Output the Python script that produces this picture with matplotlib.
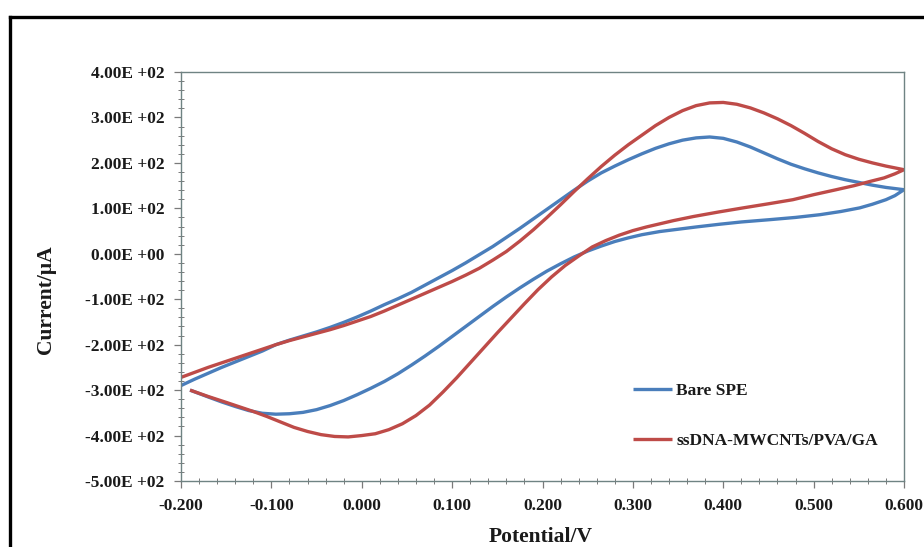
import matplotlib
matplotlib.use("Agg")
import matplotlib.pyplot as plt
from matplotlib.lines import Line2D
from matplotlib.ticker import MultipleLocator, FixedLocator

# ---- data ----
bare_fwd_v = [-0.200, -0.185, -0.170, -0.155, -0.140, -0.125, -0.110, -0.095, -0.080, -0.065,
              -0.050, -0.035, -0.020, -0.005, 0.010, 0.025, 0.040, 0.055, 0.070, 0.085,
              0.100, 0.115, 0.130, 0.145, 0.160, 0.175, 0.190, 0.205, 0.220, 0.235,
              0.250, 0.265, 0.280, 0.295, 0.310, 0.325, 0.340, 0.355, 0.370, 0.385,
              0.400, 0.415, 0.430, 0.445, 0.460, 0.475, 0.490, 0.505, 0.520, 0.535,
              0.550, 0.565, 0.580, 0.600]
bare_fwd_i = [-290, -276, -263, -250, -238, -226, -214, -200, -190, -181,
              -172, -162, -151, -139, -126, -112, -99, -85, -69, -53,
              -37, -20, -2, 16, 36, 56, 77, 98, 119, 140,
              160, 178, 193, 207, 220, 232, 242, 250, 255, 257,
              254, 246, 235, 222, 209, 197, 187, 178, 170, 163,
              157, 151, 146, 141]
bare_rev_v = [0.600, 0.590, 0.580, 0.565, 0.551, 0.530, 0.507, 0.480, 0.451, 0.420,
              0.396, 0.370, 0.350, 0.330, 0.310, 0.295, 0.280, 0.265, 0.250, 0.235,
              0.220, 0.205, 0.190, 0.175, 0.160, 0.145, 0.130, 0.115, 0.100, 0.085,
              0.070, 0.055, 0.040, 0.025, 0.010, -0.005, -0.020, -0.035, -0.050, -0.065,
              -0.080, -0.095, -0.110, -0.125, -0.140, -0.155, -0.170, -0.190]
bare_rev_i = [141, 128, 119, 109, 101, 93, 86, 80, 75, 70,
              65, 59, 54, 49, 42, 35, 27, 17, 6, -7,
              -22, -38, -56, -75, -95, -116, -138, -160, -182, -204,
              -225, -245, -264, -281, -296, -310, -323, -334, -343, -349,
              -352, -353, -351, -345, -336, -326, -315, -300]

dna_fwd_v = [-0.200, -0.185, -0.170, -0.155, -0.140, -0.125, -0.110, -0.095, -0.080, -0.065,
             -0.050, -0.035, -0.020, -0.005, 0.010, 0.025, 0.040, 0.055, 0.070, 0.085,
             0.100, 0.115, 0.130, 0.145, 0.160, 0.175, 0.190, 0.205, 0.220, 0.235,
             0.250, 0.265, 0.280, 0.295, 0.310, 0.325, 0.340, 0.355, 0.370, 0.385,
             0.400, 0.415, 0.430, 0.445, 0.460, 0.475, 0.490, 0.505, 0.520, 0.535,
             0.550, 0.565, 0.580, 0.600]
dna_fwd_i = [-272, -261, -250, -240, -230, -220, -210, -200, -191, -183,
             -175, -167, -158, -148, -138, -126, -113, -100, -87, -74,
             -61, -47, -32, -14, 5, 28, 53, 80, 108, 137,
             165, 192, 217, 240, 261, 282, 300, 315, 326, 332,
             333, 329, 321, 310, 297, 282, 265, 247, 231, 218,
             208, 200, 193, 185]
dna_rev_v = [0.600, 0.590, 0.578, 0.562, 0.545, 0.525, 0.500, 0.477, 0.450, 0.422,
             0.395, 0.367, 0.345, 0.330, 0.315, 0.300, 0.285, 0.270, 0.255, 0.240,
             0.225, 0.210, 0.195, 0.180, 0.165, 0.150, 0.135, 0.120, 0.105, 0.090,
             0.075, 0.060, 0.045, 0.030, 0.015, 0.000, -0.015, -0.030, -0.045, -0.060,
             -0.075, -0.090, -0.105, -0.120, -0.135, -0.150, -0.170, -0.190]
dna_rev_i = [185, 176, 167, 159, 150, 141, 130, 119, 110, 101,
             92, 82, 73, 66, 59, 51, 41, 29, 15, -5,
             -26, -51, -79, -110, -142, -174, -207, -240, -273, -304,
             -333, -356, -374, -387, -396, -400, -403, -402, -398, -391,
             -382, -370, -358, -347, -337, -327, -314, -300]

series_labels = ["Bare SPE", "ssDNA-MWCNTs/PVA/GA"]
series_colors = ["#4a7ebb", "#be4b48"]

y_ticks = [400, 300, 200, 100, 0, -100, -200, -300, -400, -500]
y_tick_labels = ["4.00E +02", "3.00E +02", "2.00E +02", "1.00E +02", "0.00E +00",
                 "-1.00E +02", "-2.00E +02", "-3.00E +02", "-4.00E +02", "-5.00E +02"]
x_ticks = [-0.2, -0.1, 0.0, 0.1, 0.2, 0.3, 0.4, 0.5, 0.6]
x_tick_labels = ["-0.200", "-0.100", "0.000", "0.100", "0.200", "0.300", "0.400", "0.500", "0.600"]

# ---- figure ----
W, H = 924, 547
fig = plt.figure(figsize=(W / 100, H / 100), dpi=100)
plt.rcParams['font.family'] = ['Liberation Serif', 'DejaVu Serif']

ax = fig.add_axes([181 / W, 1 - 481 / H, (904 - 181) / W, (481 - 72) / H])

lw = 2.4
ax.plot(bare_fwd_v + bare_rev_v, bare_fwd_i + bare_rev_i, color=series_colors[0], lw=lw,
        solid_joinstyle='round', solid_capstyle='butt', label=series_labels[0])
ax.plot(dna_fwd_v + dna_rev_v, dna_fwd_i + dna_rev_i, color=series_colors[1], lw=lw,
        solid_joinstyle='round', solid_capstyle='butt', label=series_labels[1])

ax.set_xlim(-0.2, 0.6)
ax.set_ylim(-500, 400)
ax.xaxis.set_major_locator(FixedLocator(x_ticks))
ax.set_xticklabels(x_tick_labels)
ax.yaxis.set_major_locator(FixedLocator(y_ticks))
ax.set_yticklabels(y_tick_labels)
ax.xaxis.set_minor_locator(MultipleLocator(0.02))
ax.yaxis.set_minor_locator(MultipleLocator(20))

spine_col = "#6f8383"
for s in ax.spines.values():
    s.set_color(spine_col)
    s.set_linewidth(1.0)

tick_col = "#7a7a7a"
ax.tick_params(axis='both', which='major', direction='out', length=5, width=0.9,
               color=tick_col, labelsize=12.5, pad=7)
ax.tick_params(axis='both', which='minor', direction='inout', length=4, width=0.7,
               color=tick_col)
for lab in ax.get_xticklabels() + ax.get_yticklabels():
    lab.set_fontweight('bold')
    lab.set_color('#1a1a1a')

fig.text(541 / W, 1 - 537 / H, "Potential/V", ha='center', va='center',
         fontsize=15.5, fontweight='bold', color='#1a1a1a')
fig.text(46 / W, 1 - 300 / H, "Current/\u03bcA", ha='center', va='center', rotation=90,
         fontsize=15.5, fontweight='bold', color='#1a1a1a')

leg = ax.legend(loc='upper left', bbox_to_anchor=(624 / W, 1 - 374 / H),
                bbox_transform=fig.transFigure, frameon=False, borderpad=0,
                handlelength=2.25, handletextpad=0.25, labelspacing=1.98,
                prop={'family': 'Liberation Serif', 'weight': 'bold', 'size': 12.5})
for t in leg.get_texts():
    t.set_color('#1a1a1a')

# outer black frame (left and top edges visible)
fig.add_artist(Line2D([9.5 / W, 9.5 / W], [0, 1 - 17 / H], transform=fig.transFigure,
                      color='black', lw=2.4, solid_capstyle='projecting'))
fig.add_artist(Line2D([9.5 / W, 1.0], [1 - 17 / H, 1 - 17 / H], transform=fig.transFigure,
                      color='black', lw=2.4, solid_capstyle='projecting'))

fig.savefig("out.png", dpi=100, facecolor='white')
